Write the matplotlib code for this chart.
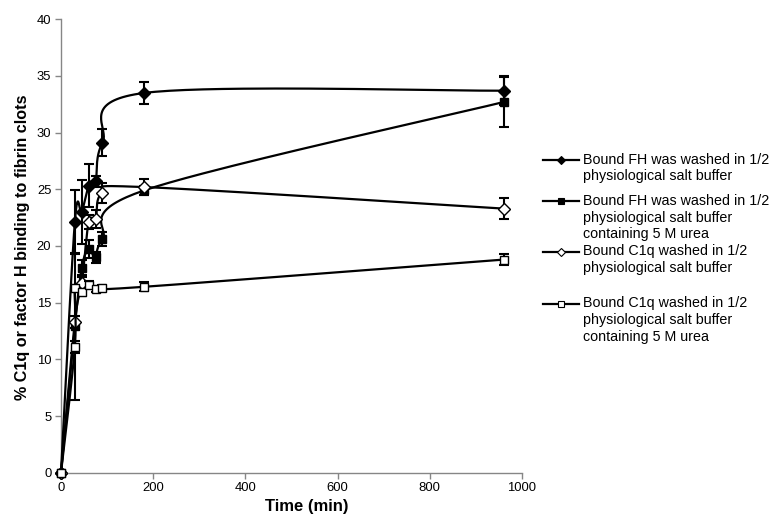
import numpy as np
import matplotlib
matplotlib.use("Agg")
import matplotlib.pyplot as plt
from matplotlib.lines import Line2D

plt.rcParams['font.family'] = ['Liberation Sans', 'DejaVu Sans']

# ---------------- data ----------------
t_std = [0, 30, 45, 60, 75, 90, 180, 960]

fh_salt = [0, 22.1, 23.0, 25.3, 25.7, 29.1, 33.5, 33.7]
fh_salt_err = [0, 2.8, 2.8, 1.9, 0.5, 1.2, 1.0, 1.3]

fh_urea = [0, 12.9, 18.1, 19.7, 19.0, 20.6, 24.9, 32.7]
fh_urea_err = [0, 6.5, 0.7, 0.8, 0.5, 0.6, 0.4, 2.2]

c1q_salt = [0, 13.3, 16.7, 22.1, 22.4, 24.7, 25.2, 23.3]
c1q_salt_err = [0, 0.5, 0.6, 0.6, 0.8, 0.9, 0.7, 0.9]

t_c1q_urea = [0, 30, 30, 45, 60, 75, 90, 180, 960]
c1q_urea = [0, 11.1, 16.3, 15.9, 16.6, 16.2, 16.3, 16.4, 18.8]
c1q_urea_err = [0, 0.5, 0.3, 0.3, 0.3, 0.3, 0.3, 0.4, 0.5]

labels = [
    ["Bound FH was washed in 1/2", "physiological salt buffer"],
    ["Bound FH was washed in 1/2", "physiological salt buffer", "containing 5 M urea"],
    ["Bound C1q washed in 1/2", "physiological salt buffer"],
    ["Bound C1q washed in 1/2", "physiological salt buffer", "containing 5 M urea"],
]

xticks = [0, 200, 400, 600, 800, 1000]
yticks = [0, 5, 10, 15, 20, 25, 30, 35, 40]

# ---------------- figure ----------------
W, H = 771, 521
fig = plt.figure(figsize=(W / 100, H / 100), dpi=100)
ax_l, ax_r, ax_t, ax_b = 61, 522, 19.3, 472.7
ax = fig.add_axes([ax_l / W, 1 - ax_b / H, (ax_r - ax_l) / W, (ax_b - ax_t) / H])
ax.set_xlim(0, 1000)
ax.set_ylim(0, 40)

sx = (ax_r - ax_l) / 1000.0
sy = (ax_b - ax_t) / 40.0


def smooth(x, y, n=40):
    px = np.asarray(x, float) * sx
    py = np.asarray(y, float) * sy
    P = np.column_stack([px, py])
    P = np.vstack([P[0], P, P[-1]])
    out = []
    for i in range(1, len(P) - 2):
        p0, p1, p2, p3 = P[i - 1], P[i], P[i + 1], P[i + 2]
        c1 = p1 + (p2 - p0) / 6.0
        c2 = p2 - (p3 - p1) / 6.0
        tt = np.linspace(0, 1, n)[:, None]
        b = ((1 - tt) ** 3) * p1 + 3 * ((1 - tt) ** 2) * tt * c1 + 3 * (1 - tt) * tt ** 2 * c2 + tt ** 3 * p2
        out.append(b if i == 1 else b[1:])
    c = np.vstack(out)
    return c[:, 0] / sx, c[:, 1] / sy


series = [
    (t_std, fh_salt, fh_salt_err, 'D', 'black', 6.2),
    (t_std, fh_urea, fh_urea_err, 's', 'black', 6.3),
    (t_std, c1q_salt, c1q_salt_err, 'D', 'white', 6.2),
    (t_c1q_urea, c1q_urea, c1q_urea_err, 's', 'white', 6.3),
]

for k, (tx, vy, ve, mk, fc, ms) in enumerate(series):
    z = 3 + k
    cx, cy = smooth(tx, vy)
    ax.plot(cx, cy, color='black', lw=1.6, zorder=z, clip_on=False)
    ax.errorbar(tx, vy, yerr=ve, fmt='none', ecolor='black', elinewidth=1.5,
                capsize=3.5, capthick=1.5, zorder=z, clip_on=False)
    ax.plot(tx, vy, linestyle='none', marker=mk, markersize=ms, markerfacecolor=fc,
            markeredgecolor='black', markeredgewidth=1.0, zorder=z + 0.5, clip_on=False)

# axes styling
for s in ['top', 'right']:
    ax.spines[s].set_visible(False)
for s in ['left', 'bottom']:
    ax.spines[s].set_color('#868686')
    ax.spines[s].set_linewidth(1.0)
ax.set_xticks(xticks)
ax.set_yticks(yticks)
ax.tick_params(axis='both', direction='out', length=4, width=1.0, color='#868686',
               labelsize=9.4, labelcolor='black', pad=3)

ax.set_xlabel("Time (min)", fontsize=12, fontweight='bold')
ax.set_ylabel("% C1q or factor H binding to fibrin clots", fontsize=11.6, fontweight='bold')
ax.xaxis.set_label_coords((307 - ax_l) / (ax_r - ax_l), (ax_b - 499) / (ax_b - ax_t))
ax.yaxis.set_label_coords((30 - ax_l) / (ax_r - ax_l), 0.497)

# legend (Excel-style, handle aligned with first text line)
entry_y = [159.5, 201, 251.5, 303.5]
line_h = 16.7
hx0, hx1, tx0 = 543, 579, 583
for k, (tx, vy, ve, mk, fc, ms) in enumerate(series):
    yy = 1 - entry_y[k] / H
    fig.add_artist(Line2D([hx0 / W, hx1 / W], [yy, yy], transform=fig.transFigure,
                          color='black', lw=1.6))
    fig.add_artist(Line2D([(hx0 + hx1) / 2 / W], [yy], transform=fig.transFigure,
                          linestyle='none', marker=mk, markersize=3.8 if mk == 's' else 3.6,
                          markerfacecolor=fc, markeredgecolor='black', markeredgewidth=0.8))
    for j, line in enumerate(labels[k]):
        fig.text(tx0 / W, 1 - (entry_y[k] + j * line_h) / H, line, fontsize=10.3,
                 ha='left', va='center', color='black')

fig.savefig("out.png", dpi=100)
